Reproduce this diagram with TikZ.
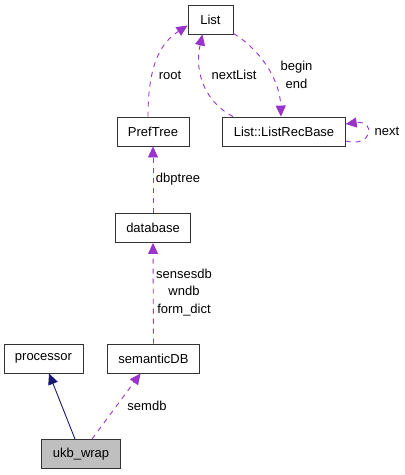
\documentclass[tikz,border=0pt]{standalone}
\usepackage{fontspec}
\setmainfont{Liberation Sans}
\usepackage{xcolor}
\usetikzlibrary{arrows.meta,positioning}
\definecolor{usecol}{HTML}{9A32CD}
\definecolor{inhcol}{HTML}{191970}

\begin{document}
\begin{tikzpicture}[x=1pt, y=-1pt,
  cls/.style={rectangle, draw=black!80, line width=0.9pt, fill=white, align=center,
    minimum width=45pt, minimum height=29pt, inner xsep=11pt, inner ysep=0pt,
    font=\fontsize{13}{15}\selectfont},
  cur/.style={cls, fill=black!25},
  usage/.style={-{Triangle[length=11pt, width=10pt]}, draw=usecol,
    line width=0.9pt, dash pattern=on 5pt off 5pt},
  inherit/.style={-{Triangle[length=11pt, width=10pt]}, draw=inhcol, line width=0.9pt},
  lbl/.style={font=\fontsize{13}{17.5}\selectfont, align=center, inner sep=0pt}
]
\useasboundingbox (0,0) rectangle (405,475);

\node[cls] (list) at (210.5,19.5) {List};
\node[cls] (preftree) at (153,131.5) {PrefTree};
\node[cls] (recbase) at (284,131.5) {List::ListRecBase};
\node[cls] (database) at (153,228) {database};
\node[cls] (processor) at (43.5,358.5) {processor};
\node[cls] (semdb) at (153.5,358.5) {semanticDB};
\node[cur] (ukbwrap) at (81,454) {ukb\_wrap};

% inheritance
\draw[inherit] ([xshift=-6pt]ukbwrap.north) -- ([xshift=5.5pt]processor.south);

% usage relations
\draw[usage] ([xshift=11pt]ukbwrap.north) -- ([xshift=-13pt]semdb.south);
\node[lbl] (l_semdb) at (147,406) {semdb};

\draw[usage] (semdb.north) -- (database.south);
\node[lbl] (l_dbs) at (184,292.5) {sensesdb\\wndb\\form\_dict};

\draw[usage] (database.north) -- (preftree.south);
\node[lbl] (l_dbptree) at (178,179) {dbptree};

\draw[usage] ([xshift=-5pt]preftree.north) .. controls (148,62) and (162,42) .. ([yshift=-6pt]list.west);
\node[lbl] (l_root) at (170,75) {root};

\draw[usage] ([xshift=-51pt]recbase.north) .. controls (205,102) and (194,72) .. ([xshift=-8pt]list.south);
\node[lbl] (l_nextlist) at (234,75) {nextList};

\draw[usage] ([yshift=-14pt]list.east) .. controls (258,48) and (280,78) .. ([xshift=-3pt]recbase.north);
\node[lbl] (l_beginend) at (296.5,75) {begin\\end};

\draw[usage] ([yshift=-9.5pt]recbase.east) .. controls (373,148) and (376,120) .. ([yshift=7.5pt]recbase.east);
\node[lbl] (l_next) at (387,131) {next};

\end{tikzpicture}
\end{document}
